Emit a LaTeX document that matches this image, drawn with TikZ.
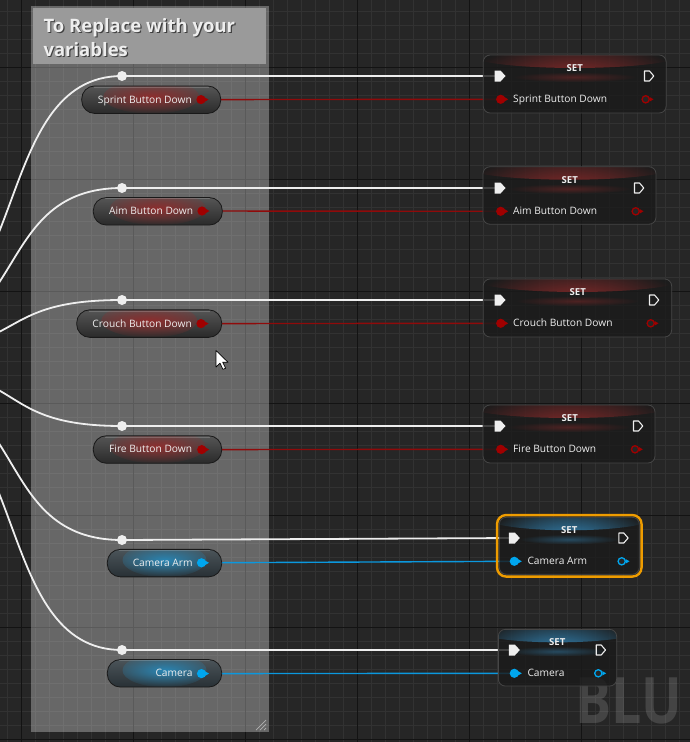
\documentclass[tikz,border=0pt]{standalone}
\usepackage{fontspec}
\setmainfont{Open Sans}
\usetikzlibrary{calc,fadings}
\definecolor{bg}{HTML}{262626}
\definecolor{gridminor}{HTML}{323232}
\definecolor{gridmajor}{HTML}{131313}
\definecolor{wirewhite}{HTML}{EEEEEE}
\definecolor{pinred}{HTML}{A00000}
\definecolor{wirered}{HTML}{900A0A}
\definecolor{pinblue}{HTML}{00A6EE}
\definecolor{wireblue}{HTML}{0B98DE}
\definecolor{nodebody}{HTML}{1B1B1B}
\definecolor{noderim}{HTML}{464646}
\definecolor{hdrred}{HTML}{8A2A2A}
\definecolor{hdrblue}{HTML}{3384B4}
\definecolor{selorange}{HTML}{EE9C00}
\definecolor{commenthdr}{HTML}{9A9A9A}
\definecolor{pilltop}{HTML}{555555}
\definecolor{pillbot}{HTML}{2A2A2A}
\definecolor{pillglowred}{HTML}{8E2E2E}
\definecolor{pilltopb}{HTML}{4B5459}
\definecolor{pillbotb}{HTML}{283035}
\definecolor{pillglowblue}{HTML}{2A86B4}
\definecolor{txt}{HTML}{EEEEEE}
\tikzfading[name=glowfade, inner color=transparent!0, outer color=transparent!100]
\tikzfading[name=downfade, top color=transparent!0, bottom color=transparent!100]
\tikzset{
  minorline/.style={draw=gridminor, line width=1pt},
  majorline/.style={draw=gridmajor, line width=1.8pt},
  execwire/.style={draw=wirewhite, line width=1.8pt},
  redwire/.style={draw=wirered, line width=1.4pt},
  bluewire/.style={draw=wireblue, line width=1.4pt},
  commentbox/.style={fill=white, fill opacity=0.3, inner sep=0pt, rectangle},
  commenthead/.style={fill=commenthdr, inner sep=0pt, rectangle},
  titletext/.style={text=txt, font=\fontsize{18.5}{23}\selectfont\bfseries, inner sep=0pt},
  titleshadow/.style={text=black!75, font=\fontsize{18.5}{23}\selectfont\bfseries, inner sep=0pt},
  getterbase/.style={draw=black!90, line width=0.8pt, rounded corners=13pt, minimum height=27.5pt, inner sep=0pt},
  getred/.style={getterbase, top color=pilltop, bottom color=pillbot,
    path picture={\fill[pillglowred, path fading=glowfade] ([yshift=3pt]path picture bounding box.center) ellipse (48pt and 17pt);
      \draw[white, opacity=0.18, line width=0.6pt] ([xshift=12pt,yshift=-1.2pt]path picture bounding box.north west) -- ([xshift=-12pt,yshift=-1.2pt]path picture bounding box.north east);}},
  getblue/.style={getterbase, top color=pilltopb, bottom color=pillbotb,
    path picture={\fill[pillglowblue, path fading=glowfade] ([yshift=3pt]path picture bounding box.center) ellipse (42pt and 17pt);
      \draw[white, opacity=0.18, line width=0.6pt] ([xshift=12pt,yshift=-1.2pt]path picture bounding box.north west) -- ([xshift=-12pt,yshift=-1.2pt]path picture bounding box.north east);}},
  label/.style={text=txt, font=\fontsize{10.2}{12}\selectfont, inner sep=0pt},
  settitle/.style={text=txt, font=\fontsize{9.6}{12}\selectfont\bfseries, inner sep=0pt},
  setbase/.style={draw=noderim, line width=0.8pt, fill=nodebody, fill opacity=0.82, rounded corners=7pt, inner sep=0pt},
  setred/.style={setbase, path picture={
    \fill[hdrred, fill opacity=1, path fading=glowfade] (path picture bounding box.north) ellipse (105pt and 13pt);
    \fill[hdrred, fill opacity=0.45, path fading=glowfade] ([yshift=-22pt]path picture bounding box.north) ellipse (62pt and 5pt);}},
  setblue/.style={setbase, path picture={
    \fill[hdrblue, fill opacity=1, path fading=glowfade] (path picture bounding box.north) ellipse (85pt and 13pt);
    \fill[hdrblue, fill opacity=0.45, path fading=glowfade] ([yshift=-22pt]path picture bounding box.north) ellipse (50pt and 5pt);}},
  selected/.style={draw=selorange, line width=2.4pt, rounded corners=9pt},
  reroute/.style={circle, fill=wirewhite, minimum size=10pt, inner sep=0pt},
  execin/.pic={\fill[wirewhite] (-5.5,-5.5) -- (0.5,-5.5) -- (5.5,0) -- (0.5,5.5) -- (-5.5,5.5) -- cycle;},
  execout/.pic={\draw[wirewhite, line width=1.1pt, line join=round] (-4.5,-5) -- (0.5,-5) -- (4.8,0) -- (0.5,5) -- (-4.5,5) -- cycle;},
  datain/.pic={\fill[#1] (0,0) circle (4.6); \fill[#1] (3.5,-2.3) -- (7.5,0) -- (3.5,2.3) -- cycle;},
  dataout/.pic={\fill[#1] (4,-2.2) -- (7.8,0) -- (4,2.2) -- cycle; \draw[#1, line width=1.3pt, fill=black!85] (0,0) circle (3.6);},
  watermark/.style={text=white, text opacity=0.14, font=\fontsize{64}{64}\selectfont\bfseries, inner sep=0pt},
}
\begin{document}
\begin{tikzpicture}[x=1pt,y=-1pt]
\useasboundingbox (0,0) rectangle (690,742);
\clip (0,0) rectangle (690,742);
% background and grid
\fill[bg] (0,0) rectangle (690,742);
\foreach \k in {0,...,49} { \draw[minorline] ({7.5+14*\k},0) -- ++(0,742); }
\foreach \k in {0,...,53} { \draw[minorline] (0,{11.5+14*\k}) -- ++(690,0); }
\foreach \k in {0,...,6} { \draw[majorline] ({21.5+112*\k},0) -- ++(0,742); }
\foreach \k in {0,...,6} { \draw[majorline] (0,{67.5+112*\k}) -- ++(690,0); }
% watermark
\node[watermark, anchor=base west, xscale=0.84, transform shape] (wm) at (575,723) {BLU};
% comment box
\node[commentbox, minimum width=238pt, minimum height=726pt] (box) at (150,369) {};
\node[commenthead, minimum width=232.4pt, minimum height=56pt] (boxhead) at (149.5,36.3) {};
\node[titleshadow, anchor=base west] (titlesh1) at (44.5,33.5) {To Replace with your};
\node[titleshadow, anchor=base west] (titlesh2) at (44.5,57.9) {variables};
\node[titletext, anchor=base west] (title1) at (43.3,32.3) {To Replace with your};
\node[titletext, anchor=base west] (title2) at (43.3,56.7) {variables};
\draw[white!70!black, line width=0.7pt] (256,730) -- (266,720) (260,730) -- (266,724) (264,730) -- (266,728);
% reroute nodes
\coordinate (src1) at (-100,325);
\coordinate (src2) at (-100,339);
\coordinate (src3) at (-100,351);
\coordinate (src4) at (-100,369);
\coordinate (src5) at (-100,386);
\coordinate (src6) at (-100,400);
\coordinate (r1c) at (122,76);
\coordinate (r2c) at (122,188);
\coordinate (r3c) at (122,300);
\coordinate (r4c) at (122,426);
\coordinate (r5c) at (122,540);
\coordinate (r6c) at (122,650);
% SET pin coordinates
\coordinate (s1x) at (500,76);    \coordinate (s1o) at (649,76);
\coordinate (s2x) at (500,188);   \coordinate (s2o) at (639,188);
\coordinate (s3x) at (500,300);   \coordinate (s3o) at (654,300);
\coordinate (s4x) at (500,426);   \coordinate (s4o) at (638,426);
\coordinate (s5x) at (514.3,538); \coordinate (s5o) at (623.3,538);
\coordinate (s6x) at (514.3,650); \coordinate (s6o) at (600.7,650);
\coordinate (s1d) at (500.7,99.3);  \coordinate (s1q) at (645.7,99.3);
\coordinate (s2d) at (500.7,211.3); \coordinate (s2q) at (635.7,211.3);
\coordinate (s3d) at (500.7,323.3); \coordinate (s3q) at (650.7,323.3);
\coordinate (s4d) at (500.7,449.3); \coordinate (s4q) at (635,449.3);
\coordinate (s5d) at (514.3,561.3); \coordinate (s5q) at (621.7,561.3);
\coordinate (s6d) at (514.3,673.3); \coordinate (s6q) at (598.3,673.3);
\coordinate (g1p) at (201,99.6);
\coordinate (g2p) at (202,211.0);
\coordinate (g3p) at (201,323.6);
\coordinate (g4p) at (201.7,449.6);
\coordinate (g5p) at (201.5,562.8);
\coordinate (g6p) at (201.5,673.6);
% wires from the left
\foreach \i in {1,...,6} {
  \draw[execwire] (src\i) .. controls +(130,0) and +(-130,0) .. (r\i c);
  \draw[execwire] (r\i c) -- (s\i x);
}
% data wires
\draw[redwire] (g1p) -- (s1d);
\draw[redwire] (g2p) -- (s2d);
\draw[redwire] (g3p) -- (s3d);
\draw[redwire] (g4p) -- (s4d);
\draw[bluewire] (g5p) -- (s5d);
\draw[bluewire] (g6p) -- (s6d);
% reroute dots
\foreach \i in {1,...,6} { \node[reroute] (r\i) at (r\i c) {}; }
% getter nodes
\node[getred, minimum width=139pt] (g1) at (151.2,99.7) {};
\node[getred, minimum width=129pt] (g2) at (157.8,211.3) {};
\node[getred, minimum width=145pt] (g3) at (149.2,323.6) {};
\node[getred, minimum width=128.4pt] (g4) at (157.5,449.5) {};
\node[getblue, minimum width=114.4pt] (g5) at (164.5,563.1) {};
\node[getblue, minimum width=114.4pt] (g6) at (164.5,673.3) {};
\node[label, anchor=base east] (g1t) at (192,103.1) {Sprint Button Down};
\node[label, anchor=base east] (g2t) at (193.3,214.8) {Aim Button Down};
\node[label, anchor=base east] (g3t) at (192,327) {Crouch Button Down};
\node[label, anchor=base east] (g4t) at (192.3,452.9) {Fire Button Down};
\node[label, anchor=base east] (g5t) at (192.7,566.4) {Camera Arm};
\node[label, anchor=base east] (g6t) at (192.7,676.9) {Camera};
\pic at (g1p) {datain=pinred};
\pic at (g2p) {datain=pinred};
\pic at (g3p) {datain=pinred};
\pic at (g4p) {datain=pinred};
\pic at (g5p) {datain=pinblue};
\pic at (g6p) {datain=pinblue};
% SET nodes
\node[setred, minimum width=183pt, minimum height=58pt] (s1) at (574.7,84) {};
\node[setred, minimum width=173pt, minimum height=57.5pt] (s2) at (569.5,195.5) {};
\node[setred, minimum width=188.5pt, minimum height=58pt] (s3) at (577.4,308) {};
\node[setred, minimum width=172pt, minimum height=58pt] (s4) at (569,434) {};
\node[selected, minimum width=144.5pt, minimum height=61.5pt] (s5sel) at (569.3,545.8) {};
\node[setblue, minimum width=140pt, minimum height=57pt] (s5) at (569.3,545.8) {};
\node[setblue, minimum width=118.3pt, minimum height=56.7pt] (s6) at (557.5,657.7) {};
\node[settitle, anchor=base] (s1h) at (574.7,71.6) {SET};
\node[settitle, anchor=base] (s2h) at (569.7,183.6) {SET};
\node[settitle, anchor=base] (s3h) at (577.7,295.6) {SET};
\node[settitle, anchor=base] (s4h) at (569.7,421.6) {SET};
\node[settitle, anchor=base] (s5h) at (569.3,533.6) {SET};
\node[settitle, anchor=base] (s6h) at (557.3,645.9) {SET};
\node[label, anchor=base west] (s1t) at (513,102.9) {Sprint Button Down};
\node[label, anchor=base west] (s2t) at (513,214.9) {Aim Button Down};
\node[label, anchor=base west] (s3t) at (513,326.9) {Crouch Button Down};
\node[label, anchor=base west] (s4t) at (513,452.9) {Fire Button Down};
\node[label, anchor=base west] (s5t) at (527.3,564.9) {Camera Arm};
\node[label, anchor=base west] (s6t) at (527.3,676.9) {Camera};
\foreach \i in {1,...,6} {
  \pic at (s\i x) {execin};
  \pic at (s\i o) {execout};
}
\pic at (s1d) {datain=pinred};  \pic at (s1q) {dataout=pinred};
\pic at (s2d) {datain=pinred};  \pic at (s2q) {dataout=pinred};
\pic at (s3d) {datain=pinred};  \pic at (s3q) {dataout=pinred};
\pic at (s4d) {datain=pinred};  \pic at (s4q) {dataout=pinred};
\pic at (s5d) {datain=pinblue}; \pic at (s5q) {dataout=pinblue};
\pic at (s6d) {datain=pinblue}; \pic at (s6q) {dataout=pinblue};
% mouse cursor
\filldraw[fill=white, draw=black, line width=0.7pt, line join=round] (216,350.5) -- ++(0,16.5) -- ++(4,-3.8) -- ++(3,6.2) -- ++(2.6,-1.2) -- ++(-2.9,-6) -- ++(5.3,0) -- cycle;
\end{tikzpicture}
\end{document}
